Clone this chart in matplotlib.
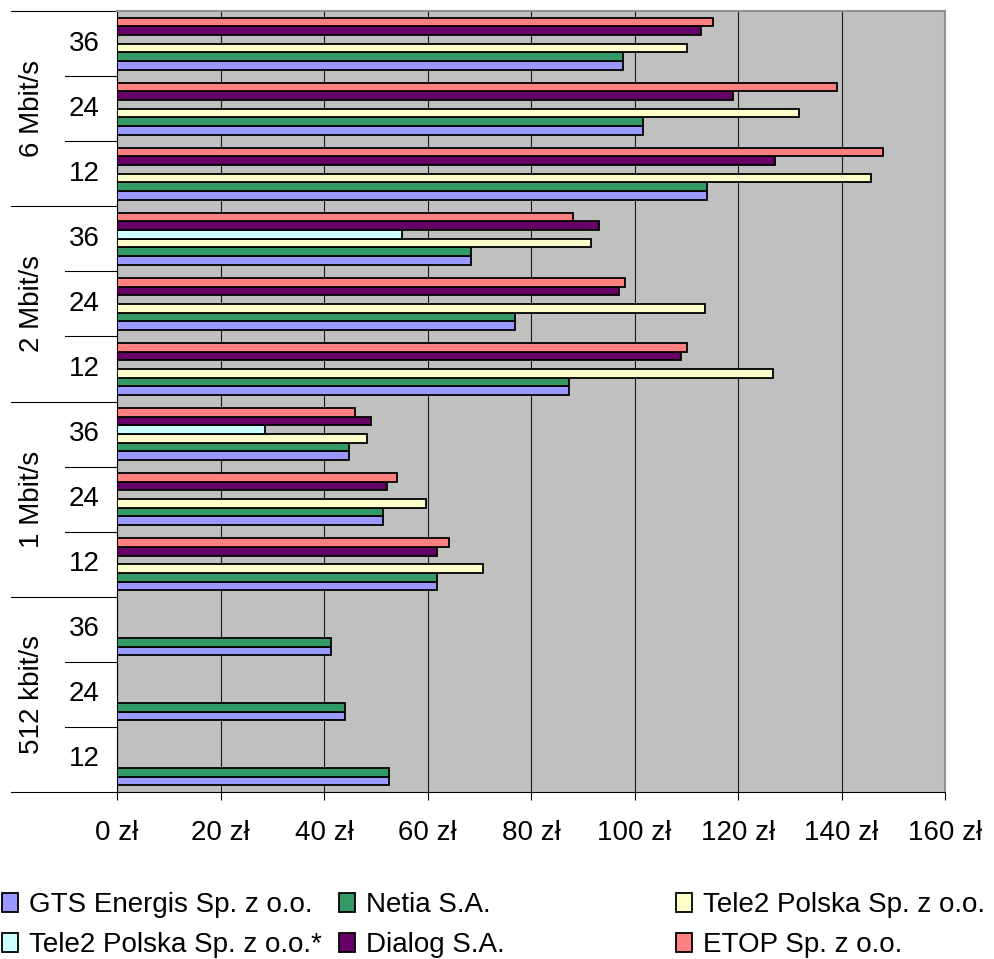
import numpy as np
import matplotlib
matplotlib.use("Agg")
import matplotlib.pyplot as plt
import matplotlib.transforms as mtransforms

plt.rcParams['font.family'] = ['Liberation Sans', 'DejaVu Sans']
plt.rcParams['font.size'] = 20

# categories, bottom to top
speeds = ['512 kbit/s', '1 Mbit/s', '2 Mbit/s', '6 Mbit/s']
months = ['12', '24', '36']

nan = np.nan
# values per (speed, months), same order as above
gts    = [52.6, 44.1, 41.4, 61.8, 51.4, 44.8, 87.3, 76.9, 68.4, 114.0, 101.6, 97.8]
netia  = [52.6, 44.1, 41.4, 61.8, 51.4, 44.8, 87.3, 76.9, 68.4, 114.0, 101.6, 97.8]
tele2  = [nan, nan, nan, 70.7, 59.8, 48.3, 126.8, 113.7, 91.6, 145.7, 131.8, 110.2]
tele2s = [nan, nan, nan, nan, nan, 28.6, nan, nan, 55.0, nan, nan, nan]
dialog = [nan, nan, nan, 61.9, 52.2, 49.1, 109.0, 97.1, 93.2, 127.2, 119.1, 112.9]
etop   = [nan, nan, nan, 64.2, 54.2, 46.0, 110.1, 98.2, 88.1, 148.1, 139.2, 115.2]

names = ['GTS Energis Sp. z o.o.', 'Netia S.A.', 'Tele2 Polska Sp. z o.o.',
         'Tele2 Polska Sp. z o.o.*', 'Dialog S.A.', 'ETOP Sp. z o.o.']
series = [gts, netia, tele2, tele2s, dialog, etop]
colors = ['#9999FF', '#339966', '#FFFFCC', '#CCFFFF', '#660066', '#FF8080']

xticks = [0, 20, 40, 60, 80, 100, 120, 140, 160]

fig = plt.figure(figsize=(9.94, 9.59), dpi=100)
ax = fig.add_axes([117/994, 1-792/959, 828/994, 781/959])
ax.set_facecolor('#C0C0C0')

n = len(series)
h = 0.8 / n
y = np.arange(len(speeds) * len(months))
handles = []
for i, (vals, col, name) in enumerate(zip(series, colors, names)):
    vals = np.array(vals)
    ok = ~np.isnan(vals)
    b = ax.barh(y[ok] + (i - (n-1)/2) * h, vals[ok], height=h, color=col,
                edgecolor='black', linewidth=1.3, zorder=3, label=name)
    handles.append(b)

ax.set_xlim(0, 160)
ax.set_ylim(-0.5, len(y) - 0.5)
ax.set_xticks(xticks)
ax.set_xticklabels([f'{v} zł' for v in xticks])
ax.xaxis.grid(True, color='#1a1a1a', linewidth=0.8, zorder=0)
ax.set_axisbelow(True)
ax.tick_params(axis='x', direction='out', length=6, width=0.8, pad=14)
ax.set_yticks([])

for s in ['top', 'right']:
    ax.spines[s].set_color('#909090')
    ax.spines[s].set_linewidth(1.5)
for s in ['left', 'bottom']:
    ax.spines[s].set_color('black')
    ax.spines[s].set_linewidth(0.8)

# hierarchical category axis
tr = mtransforms.blended_transform_factory(ax.transAxes, ax.transData)
inner_x = (65 - 117) / 828
outer_x = (11 - 117) / 828
nm = len(months)
for k in range(len(y) + 1):
    yy = k - 0.5
    x0 = outer_x if k % nm == 0 else inner_x
    ax.plot([x0, 0], [yy, yy], color='black', lw=0.8, transform=tr, clip_on=False)
for k in range(len(y)):
    ax.text((84 - 117) / 828, k, months[k % nm], transform=tr,
            ha='center', va='center')
for j, sp in enumerate(speeds):
    ax.text((32 - 117) / 828, j * nm + (nm - 1) / 2, sp, transform=tr,
            ha='center', va='center', rotation=90)

# legend: three columns, laid out like the original
cols_x = [2, 339, 676]
for c in range(3):
    hs = [handles[c], handles[c + 3]]
    fig.legend(hs, [names[c], names[c + 3]], loc='center left',
               bbox_to_anchor=(cols_x[c] / 994, 1 - 925 / 959),
               frameon=False, borderpad=0, borderaxespad=0,
               handlelength=0.58, handleheight=0.68, handletextpad=0.38,
               labelspacing=0.52, fontsize=20)

fig.savefig('out.png', dpi=100)
